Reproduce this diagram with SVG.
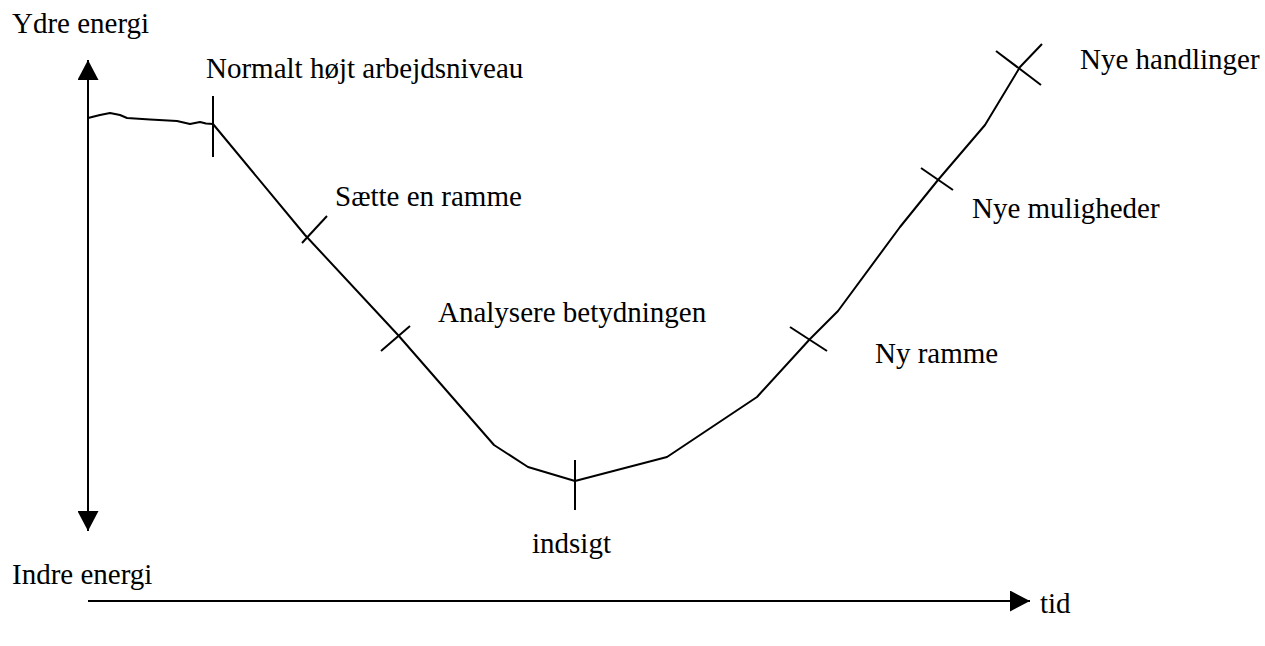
<svg xmlns="http://www.w3.org/2000/svg" width="1265" height="646" viewBox="0 0 1265 646">
<style>
text{font-family:"Liberation Serif","Times New Roman",serif;font-size:29px;fill:#000}
.ln{fill:none;stroke:#000;stroke-width:2;stroke-linejoin:round}
.tk{stroke:#000;stroke-width:2}
</style>
<defs>
<marker id="ah" viewBox="0 0 20 21" refX="20" refY="10.5" markerWidth="20" markerHeight="21" markerUnits="userSpaceOnUse" orient="auto-start-reverse">
<path d="M0,0 L20,10.5 L0,21 Z" fill="#000"/>
</marker>
</defs>
<rect width="1265" height="646" fill="#fff"/>
<g id="axes">
<line class="tk" x1="88" y1="60" x2="88" y2="531" marker-start="url(#ah)" marker-end="url(#ah)"/>
<line class="tk" x1="88" y1="601" x2="1030" y2="601" marker-end="url(#ah)"/>
</g>
<g id="connectors">
<path class="ln" d="M88,118 L100,115 L110,113 L120,115 L127,118 L150,119.5 L177,121 L190,124 L200,122 L206,123.5 L213,124 L305,235 L398,335 L494,445 L528,467 L575,481 L667,457 L757,397 L810,339 L838,311 L900,227 L938,180 L985,125 L1020,67 L1042,44"/>
</g>
<g id="ticks">
<line class="tk" x1="213" y1="96" x2="213" y2="157"/>
<line class="tk" x1="302" y1="243" x2="327" y2="216"/>
<line class="tk" x1="381" y1="351" x2="410" y2="326"/>
<line class="tk" x1="575" y1="460" x2="575" y2="510"/>
<line class="tk" x1="790" y1="327" x2="827" y2="351"/>
<line class="tk" x1="921" y1="168" x2="953" y2="190"/>
<line class="tk" x1="996" y1="51" x2="1041" y2="85"/>
</g>
<g id="label-ydre"><text x="12" y="33">Ydre energi</text></g>
<g id="label-indre"><text x="12" y="584">Indre energi</text></g>
<g id="label-tid"><text x="1040" y="613">tid</text></g>
<g id="node-normalt"><text x="206" y="78">Normalt højt arbejdsniveau</text></g>
<g id="node-saette"><text x="335" y="206">Sætte en ramme</text></g>
<g id="node-analysere"><text x="438" y="322">Analysere betydningen</text></g>
<g id="node-indsigt"><text x="532" y="553">indsigt</text></g>
<g id="node-nyramme"><text x="875" y="363">Ny ramme</text></g>
<g id="node-muligheder"><text x="972" y="218">Nye muligheder</text></g>
<g id="node-handlinger"><text x="1080" y="69">Nye handlinger</text></g>
</svg>
